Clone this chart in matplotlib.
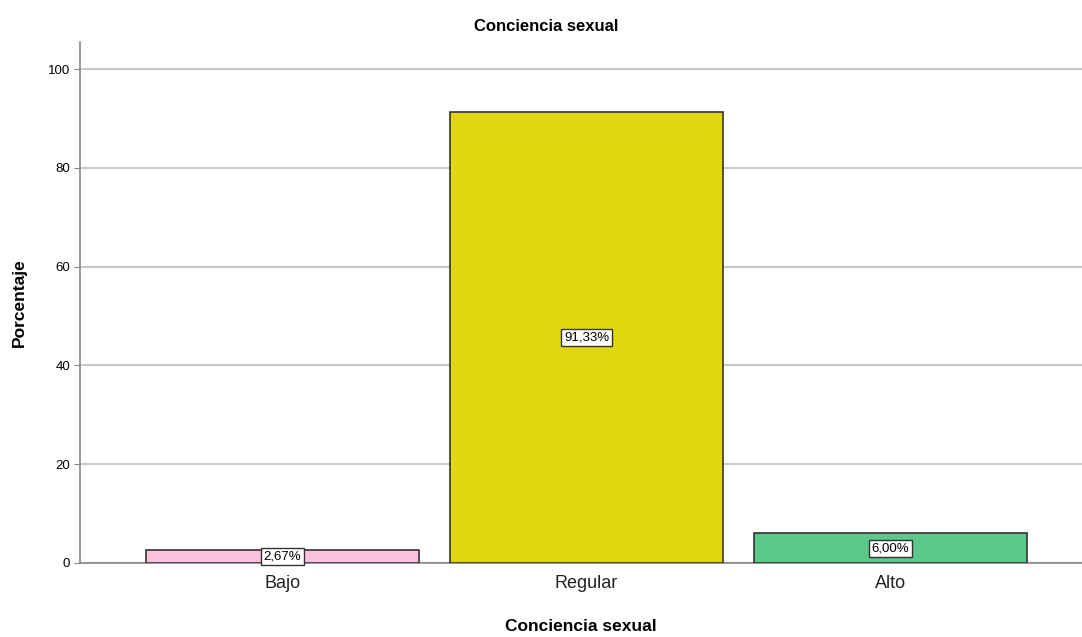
import matplotlib.pyplot as plt

plt.rcParams['font.family'] = ['Liberation Sans', 'DejaVu Sans']

categories = ['Bajo', 'Regular', 'Alto']
percentages = [2.67, 91.33, 6.00]
value_labels = ['2,67%', '91,33%', '6,00%']
bar_colors = ['#fbbfe0', '#e1d70f', '#5cc98b']

fig = plt.figure(figsize=(10.82, 6.37), dpi=100)
ax = fig.add_axes([0.0739, 0.1162, 0.9261, 0.8178])

x = range(len(categories))
bars = ax.bar(x, percentages, width=0.9, color=bar_colors,
              edgecolor='#333333', linewidth=1.2, zorder=3)

for bar, val, lab in zip(bars, percentages, value_labels):
    ax.text(bar.get_x() + bar.get_width() / 2, val / 2, lab,
            ha='center', va='center', fontsize=9.5, zorder=4,
            bbox=dict(boxstyle='square,pad=0.2', facecolor='white',
                      edgecolor='#333333', linewidth=1))

ax.set_xlim(-0.666, 2.63)
ax.set_ylim(0, 105.5)
ax.set_yticks([0, 20, 40, 60, 80, 100])
ax.set_xticks(list(x))
ax.set_xticklabels(categories, fontsize=13, color='#222222')
ax.tick_params(axis='x', length=0, pad=9)
ax.tick_params(axis='y', labelsize=9.5, length=4, color='#888888', pad=3)

ax.yaxis.grid(True, color='#c8c8c8', linewidth=1.5, zorder=0)
ax.set_axisbelow(True)

for side in ['top', 'right']:
    ax.spines[side].set_visible(False)
ax.spines['left'].set_color('#888888')
ax.spines['bottom'].set_color('#888888')
ax.spines['left'].set_linewidth(1.2)
ax.spines['bottom'].set_linewidth(1.2)

fig.text(0.505, 0.958, 'Conciencia sexual', fontsize=12, fontweight='bold',
         ha='center', va='center')
ax.set_xlabel('Conciencia sexual', fontsize=12.5, fontweight='bold', labelpad=19)
ax.set_ylabel('Porcentaje', fontsize=12.5, fontweight='bold', labelpad=15)

fig.savefig('out.png', dpi=100)
